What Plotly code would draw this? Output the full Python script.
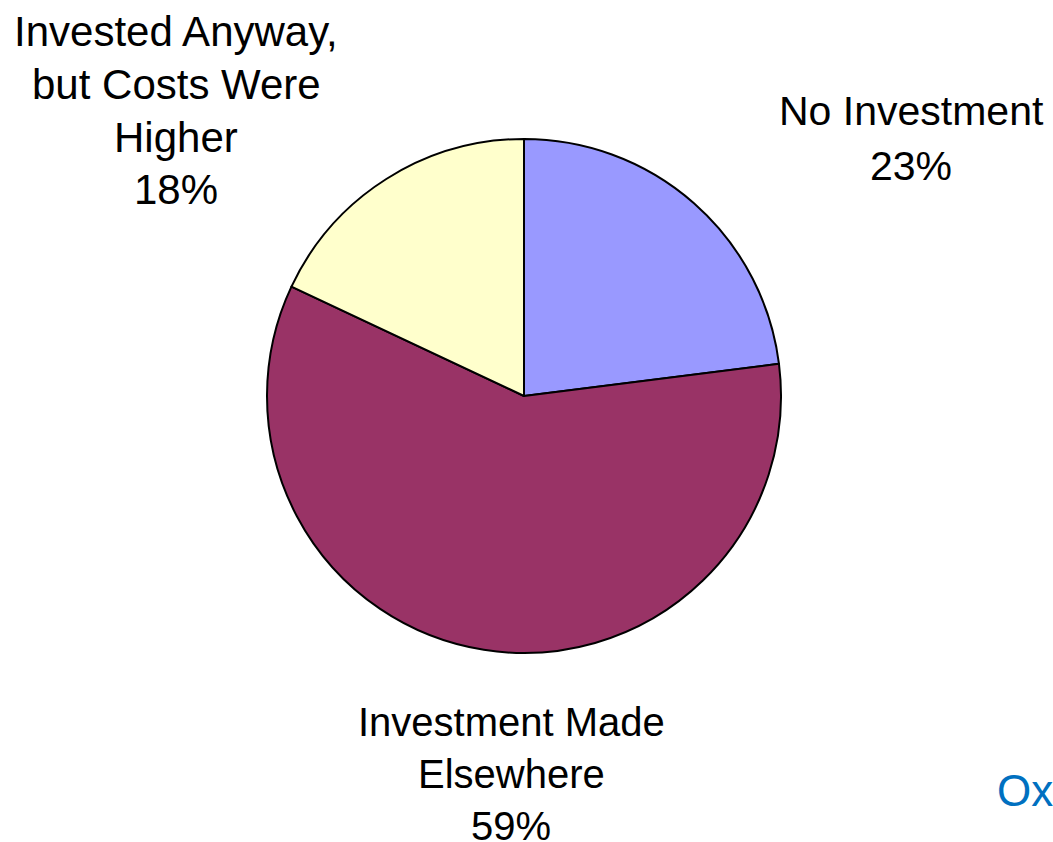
import plotly.graph_objects as go

categories = ["No Investment", "Investment Made Elsewhere", "Invested Anyway, but Costs Were Higher"]
label_lines = [["No Investment"], ["Investment Made", "Elsewhere"], ["Invested Anyway,", "but Costs Were", "Higher"]]
values = [23, 59, 18]
colors = ["#9999FF", "#993366", "#FFFFCC"]
source_text = "Oxford Economics"

W, H = 1053, 842
R = 257
CX, CY = 524, 396
fig = go.Figure()
fig.add_trace(go.Pie(
    labels=categories,
    values=values,
    sort=False,
    direction="clockwise",
    rotation=0,
    marker=dict(colors=colors, line=dict(color="black", width=2)),
    textinfo="none",
    hoverinfo="label+percent",
    showlegend=False,
    domain=dict(x=[(CX - R) / W, (CX + R) / W], y=[(H - CY - R) / H, (H - CY + R) / H]),
))

# label block layout: centre x, first line centre y, line spacing, font size
label_layout = [(911, 110, 55, 41), (511, 721, 52, 40), (176, 30, 53, 42)]
for lines, v, (cx, y0, dy, fs) in zip(label_lines, values, label_layout):
    for i, line in enumerate(lines + [f"{v}%"]):
        fig.add_annotation(
            x=cx / W, y=1 - (y0 + i * dy + 1) / H, xref="paper", yref="paper",
            xanchor="center", yanchor="middle", showarrow=False,
            text=line, align="center",
            font=dict(family="Liberation Sans, Arial", size=fs, color="black"),
        )

fig.add_annotation(
    x=995 / W, y=1 - 790 / H, xref="paper", yref="paper",
    xanchor="left", yanchor="middle", showarrow=False,
    text=source_text, font=dict(family="Liberation Sans, Arial", size=44, color="#0070C0"),
)

fig.update_layout(
    width=W, height=H,
    margin=dict(l=0, r=0, t=0, b=0),
    paper_bgcolor="white", plot_bgcolor="white",
)
fig.write_html(
    "out.html",
    config={"displayModeBar": False},
    post_script="document.body.style.margin='0';document.body.style.overflow='hidden';",
)
